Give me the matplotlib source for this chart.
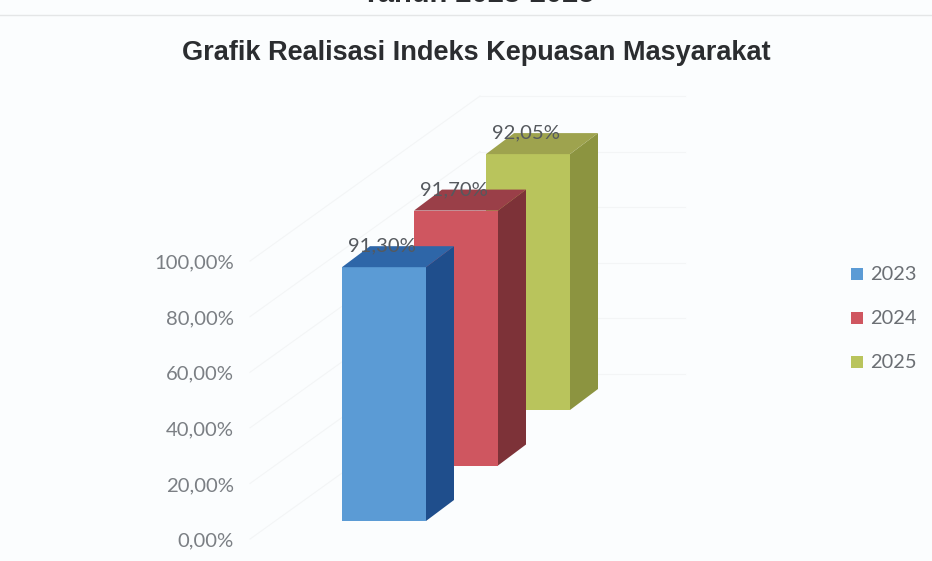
"""Grafik Realisasi Indeks Kepuasan Masyarakat - batang 3D miring."""
import matplotlib
matplotlib.use("Agg")
import matplotlib.pyplot as plt
from matplotlib.patches import Polygon, Rectangle

YEARS = ["2023", "2024", "2025"]
VALUES = [91.30, 91.70, 92.05]
VALUE_LABELS = ["91,30%", "91,70%", "92,05%"]
TICKS = [0, 20, 40, 60, 80, 100]
TICK_LABELS = ["0,00%", "20,00%", "40,00%", "60,00%", "80,00%", "100,00%"]

FRONT = ["#5b9bd5", "#cf5660", "#b9c45c"]
SIDE = ["#1f4e8c", "#7d3238", "#8c9440"]
TOP = ["#2e66a8", "#9a3f48", "#9ea34e"]

# escala: x em pixels, y em %; 1 % = 2,78 px
PX = 2.78
BASE = 521
W, H = 932, 561
BAR_W = 84
STEP_X = 72
STEP_Y = 55.5 / PX      # cada serie recua 20 % na vertical
DX, DY = 28, 21 / PX
X0 = 342


def draw_bar(ax, i, value):
    x = X0 + i * STEP_X
    y = i * STEP_Y
    ax.add_patch(Rectangle((x, y), BAR_W, value, fc=FRONT[i], ec="none", zorder=3 + i * -1))
    ax.add_patch(Polygon([(x + BAR_W, y), (x + BAR_W + DX, y + DY),
                          (x + BAR_W + DX, y + DY + value), (x + BAR_W, y + value)],
                         fc=SIDE[i], ec="none", zorder=3 + i * -1))
    ax.add_patch(Polygon([(x, y + value), (x + DX, y + value + DY),
                          (x + BAR_W + DX, y + value + DY), (x + BAR_W, y + value)],
                         fc=TOP[i], ec="none", zorder=3 + i * -1))


def main():
    fig = plt.figure(figsize=(W / 100, H / 100), dpi=100, facecolor="#fbfdfe")
    ax = fig.add_axes([0, 0, 1, 1])
    ax.set_xlim(0, W)
    ax.set_ylim((BASE - H) / PX, BASE / PX)
    ax.axis("off")

    # grade quase invisivel
    for t in TICKS:
        ax.plot([250, 480], [t - 6.5, t - 6.5 + 165 / PX], color="#f3f5f6", lw=0.8, zorder=1)
        ax.plot([480, 685], [t - 6.5 + 165 / PX] * 2, color="#f3f5f6", lw=0.8, zorder=1)

    for i, v in enumerate(VALUES):
        draw_bar(ax, i, v)
        ax.text(X0 + i * STEP_X + 40, i * STEP_Y + v + 7.6, VALUE_LABELS[i],
                ha="center", va="center", fontsize=14.6, family="Lato",
                color="#55595e", zorder=8)

    for t, lab in zip(TICKS, TICK_LABELS):
        ax.text(234, t - 7.2, lab, ha="right", va="center", fontsize=14.6,
                family="Lato", color="#7b7f84")

    # legenda
    for i, year in enumerate(YEARS):
        yy = (BASE - (274 + i * 44)) / PX
        ax.add_patch(Rectangle((851, yy - 6 / PX), 12, 12 / PX, fc=FRONT[i], ec="none"))
        ax.text(870, yy, year, ha="left", va="center", fontsize=14.4, family="Lato",
                color="#6b6f74")

    ax.text(476.5, (BASE - 53.5) / PX, "Grafik Realisasi Indeks Kepuasan Masyarakat",
            ha="center", va="center", fontsize=19.5, fontweight="bold",
            family="Liberation Sans", color="#2b2d30")
    # titulo de cima, cortado pela borda como no original
    ax.text(478, (BASE + 6.5) / PX, "Tahun 2023-2025", ha="center", va="center",
            fontsize=21, fontweight="bold", family="Liberation Sans", color="#2b2d30",
            clip_on=False)
    ax.plot([0, W], [(BASE - 15) / PX] * 2, color="#e4e6e7", lw=1)

    fig.savefig("out.png", dpi=100, facecolor=fig.get_facecolor())


if __name__ == "__main__":
    main()
